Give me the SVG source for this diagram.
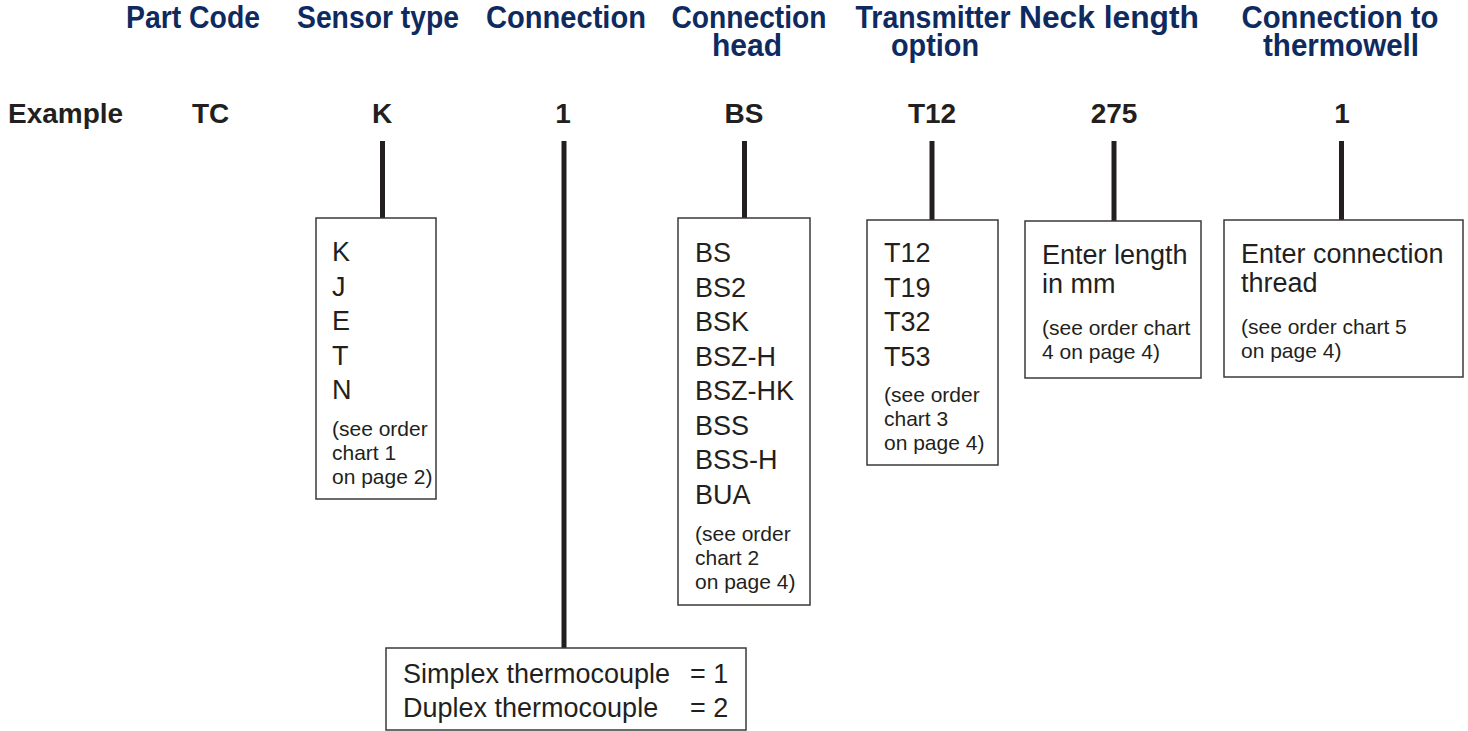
<svg xmlns="http://www.w3.org/2000/svg" width="1468" height="731" viewBox="0 0 1468 731">
<style>
.hd{font-family:"Liberation Sans",Arial,sans-serif;font-weight:bold;font-size:31px;fill:#0e2a5f;text-anchor:middle}
.ex{font-family:"Liberation Sans",Arial,sans-serif;font-weight:bold;font-size:28px;fill:#231f20}
.exm{text-anchor:middle}
.bx{fill:#fff;stroke:#3a3a3a;stroke-width:1.5}
.big{font-family:"Liberation Sans",Arial,sans-serif;font-size:27px;fill:#231f20}
.sm{font-family:"Liberation Sans",Arial,sans-serif;font-size:21px;fill:#231f20}
.cn{stroke:#231f20;stroke-width:5;fill:none}
</style>
<rect width="1468" height="731" fill="#fff"/>
<g id="headers">
<text class="hd" x="193" y="28" textLength="134" lengthAdjust="spacingAndGlyphs">Part Code</text>
<text class="hd" x="378" y="28" textLength="162" lengthAdjust="spacingAndGlyphs">Sensor type</text>
<text class="hd" x="566" y="28" textLength="160" lengthAdjust="spacingAndGlyphs">Connection</text>
<text class="hd" x="749" y="28" textLength="155" lengthAdjust="spacingAndGlyphs">Connection</text>
<text class="hd" x="747" y="56" textLength="70" lengthAdjust="spacingAndGlyphs">head</text>
<text class="hd" x="933" y="28" textLength="155" lengthAdjust="spacingAndGlyphs">Transmitter</text>
<text class="hd" x="935" y="56" textLength="88" lengthAdjust="spacingAndGlyphs">option</text>
<text class="hd" x="1109" y="28" textLength="180" lengthAdjust="spacingAndGlyphs">Neck length</text>
<text class="hd" x="1340" y="28" textLength="197" lengthAdjust="spacingAndGlyphs">Connection to</text>
<text class="hd" x="1341" y="56" textLength="156" lengthAdjust="spacingAndGlyphs">thermowell</text>
</g>
<g id="example">
<text class="ex" x="8" y="123">Example</text>
<text class="ex" x="192" y="123">TC</text>
<text class="ex exm" x="382" y="123">K</text>
<text class="ex exm" x="563" y="123">1</text>
<text class="ex exm" x="744" y="123">BS</text>
<text class="ex exm" x="932" y="123">T12</text>
<text class="ex exm" x="1114" y="123">275</text>
<text class="ex exm" x="1342" y="123">1</text>
</g>
<g id="connectors">
<line class="cn" x1="382.5" y1="141" x2="382.5" y2="218"/>
<line class="cn" x1="564" y1="141" x2="564" y2="648"/>
<line class="cn" x1="744.5" y1="141" x2="744.5" y2="218"/>
<line class="cn" x1="932" y1="141" x2="932" y2="220"/>
<line class="cn" x1="1114" y1="141" x2="1114" y2="221"/>
<line class="cn" x1="1341.5" y1="141" x2="1341.5" y2="220"/>
</g>
<g id="sensor-type">
<rect class="bx" x="316" y="218" width="120" height="281"/>
<text class="big" x="332" y="261">K</text>
<text class="big" x="332" y="295.5">J</text>
<text class="big" x="332" y="330">E</text>
<text class="big" x="332" y="364.5">T</text>
<text class="big" x="332" y="399">N</text>
<text class="sm" x="332" y="436">(see order</text>
<text class="sm" x="332" y="460">chart 1</text>
<text class="sm" x="332" y="484">on page 2)</text>
</g>
<g id="connection-head">
<rect class="bx" x="678" y="218" width="132" height="387"/>
<text class="big" x="695" y="262">BS</text>
<text class="big" x="695" y="296.5">BS2</text>
<text class="big" x="695" y="331">BSK</text>
<text class="big" x="695" y="365.5">BSZ-H</text>
<text class="big" x="695" y="400">BSZ-HK</text>
<text class="big" x="695" y="434.5">BSS</text>
<text class="big" x="695" y="469">BSS-H</text>
<text class="big" x="695" y="503.5">BUA</text>
<text class="sm" x="695" y="541">(see order</text>
<text class="sm" x="695" y="565">chart 2</text>
<text class="sm" x="695" y="589">on page 4)</text>
</g>
<g id="transmitter-option">
<rect class="bx" x="867" y="220" width="131" height="245"/>
<text class="big" x="884" y="262">T12</text>
<text class="big" x="884" y="296.5">T19</text>
<text class="big" x="884" y="331">T32</text>
<text class="big" x="884" y="365.5">T53</text>
<text class="sm" x="884" y="402">(see order</text>
<text class="sm" x="884" y="426">chart 3</text>
<text class="sm" x="884" y="450">on page 4)</text>
</g>
<g id="neck-length">
<rect class="bx" x="1025" y="221" width="176" height="157"/>
<text class="big" x="1042" y="264">Enter length</text>
<text class="big" x="1042" y="293">in mm</text>
<text class="sm" x="1042" y="335">(see order chart</text>
<text class="sm" x="1042" y="359">4 on page 4)</text>
</g>
<g id="connection-thermowell">
<rect class="bx" x="1224" y="220" width="239" height="157"/>
<text class="big" x="1241" y="263">Enter connection</text>
<text class="big" x="1241" y="292">thread</text>
<text class="sm" x="1241" y="334">(see order chart 5</text>
<text class="sm" x="1241" y="358">on page 4)</text>
</g>
<g id="connection">
<rect class="bx" x="386" y="648" width="360" height="82"/>
<text class="big" x="403" y="683">Simplex thermocouple</text>
<text class="big" x="690" y="683">= 1</text>
<text class="big" x="403" y="717">Duplex thermocouple</text>
<text class="big" x="690" y="717">= 2</text>
</g>
</svg>
